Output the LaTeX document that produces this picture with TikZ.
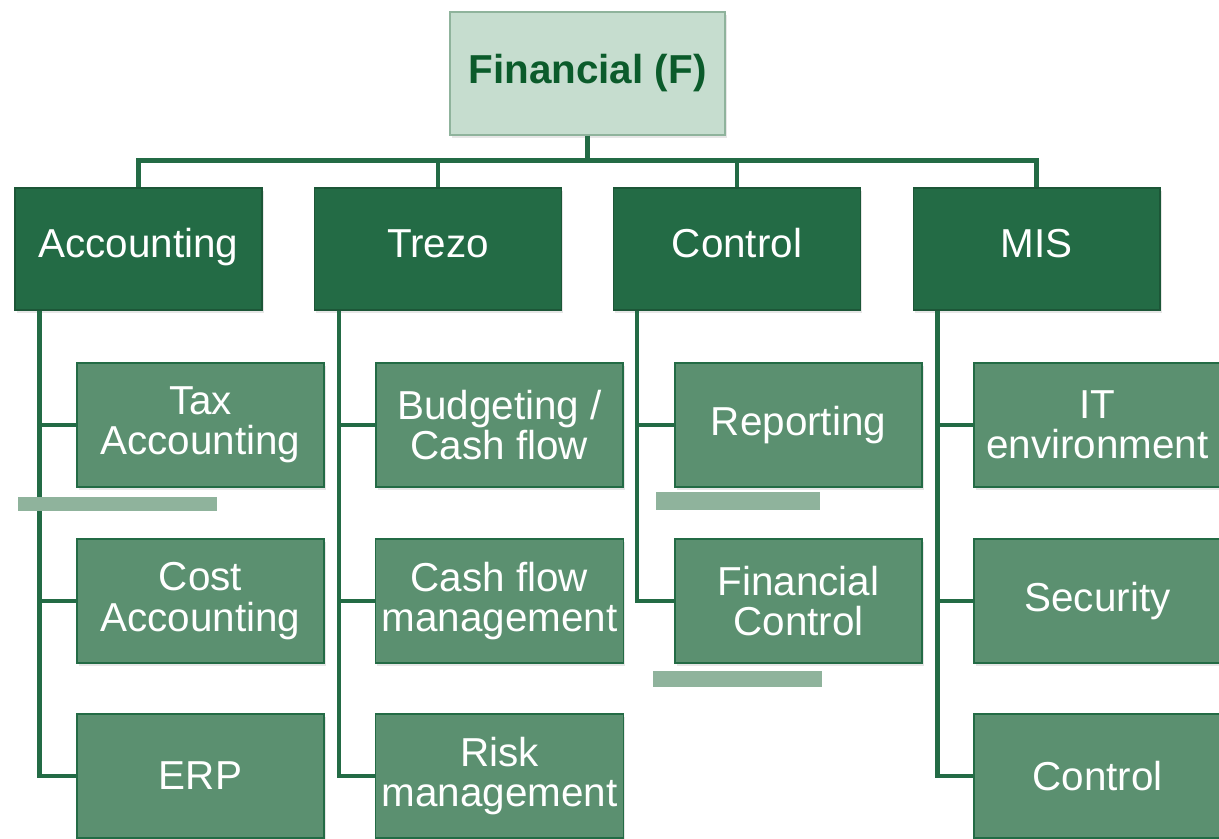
\documentclass[tikz,border=0pt]{standalone}
\usepackage{fontspec}
\setmainfont{Liberation Sans}
\usetikzlibrary{shadows}
\definecolor{darkgreen}{HTML}{236B45}
\definecolor{midgreen}{HTML}{5B9070}
\definecolor{palegreen}{HTML}{C6DDCF}
\definecolor{titlegreen}{HTML}{0B5B2B}
\definecolor{bargreen}{HTML}{8FB39C}
\tikzset{
	head/.style = {draw = bargreen, line width = 1pt, fill = palegreen, minimum width = 5.5cm, minimum height = 2.46cm, font = \fontsize{23}{23}\selectfont\bfseries, text = titlegreen, drop shadow = {opacity = 0.2, shadow xshift = 1pt, shadow yshift = -1.5pt}},
	dept/.style = {draw = darkgreen!80!black, line width = 0.6pt, fill = darkgreen, minimum width = 4.94cm, minimum height = 2.44cm, font = \fontsize{23}{23}\selectfont, text = white, text height = 1em, text depth = 0.06em, drop shadow = {opacity = 0.2, shadow xshift = 1pt, shadow yshift = -1.5pt}},
	task/.style = {draw = darkgreen, line width = 0.8pt, fill = midgreen, minimum width = 4.94cm, minimum height = 2.48cm, font = \fontsize{23}{23}\selectfont, text = white, align = center, drop shadow = {opacity = 0.2, shadow xshift = 1pt, shadow yshift = -1.5pt}},
	conn/.style = {draw = darkgreen, line width = 2.8pt, line join = miter}
}
\begin{document}
\begin{tikzpicture}[x = 0.02cm, y = -0.02cm]
				\useasboundingbox (0, 0) rectangle (1219, 838);
				\clip (0, 0) rectangle (1219, 838);
				% top of the tree
				\node[head] (fin) at (587.5, 73.5) {Financial (F)};
				% departments
				\node[dept] (acc) at (138.5, 249) {Accounting};
				\node[dept] (trz) at (438, 249) {Trezo};
				\node[dept] (ctl) at (737, 249) {Control};
				\node[dept] (mis) at (1036.5, 249) {MIS};
				\draw[conn] (fin.south) -- ++(0, 25) -| (acc.north);
				\draw[conn] (fin.south) -- ++(0, 25) -| (trz.north);
				\draw[conn] (fin.south) -- ++(0, 25) -| (ctl.north);
				\draw[conn] (fin.south) -- ++(0, 25) -| (mis.north);
				% tasks
				\node[task] (tax) at (200.5, 425) {Tax\\Accounting};
				\node[task] (cost) at (200.5, 601) {Cost\\Accounting};
				\node[task] (erp) at (200.5, 776) {ERP};
				\node[task] (budg) at (499.5, 425) {Budgeting /\\Cash flow};
				\node[task] (cash) at (499.5, 601) {Cash flow\\management};
				\node[task] (risk) at (499.5, 776) {Risk\\management};
				\node[task] (rep) at (798.5, 425) {Reporting};
				\node[task] (fctl) at (798.5, 601) {Financial\\Control};
				\node[task] (itenv) at (1097.5, 425) {IT\\environment};
				\node[task] (sec) at (1097.5, 601) {Security};
				\node[task] (misctl) at (1097.5, 776) {Control};
				\draw[conn] ([xshift = 0.5cm]acc.south west) |- (tax.west);
				\draw[conn] ([xshift = 0.5cm]acc.south west) |- (cost.west);
				\draw[conn] ([xshift = 0.5cm]acc.south west) |- (erp.west);
				\draw[conn] ([xshift = 0.5cm]trz.south west) |- (budg.west);
				\draw[conn] ([xshift = 0.5cm]trz.south west) |- (cash.west);
				\draw[conn] ([xshift = 0.5cm]trz.south west) |- (risk.west);
				\draw[conn] ([xshift = 0.48cm]ctl.south west) |- (rep.west);
				\draw[conn] ([xshift = 0.48cm]ctl.south west) |- (fctl.west);
				\draw[conn] ([xshift = 0.5cm]mis.south west) |- (itenv.west);
				\draw[conn] ([xshift = 0.5cm]mis.south west) |- (sec.west);
				\draw[conn] ([xshift = 0.5cm]mis.south west) |- (misctl.west);
				% loose bars
				\fill[bargreen] (18, 497) rectangle (217, 511);
				\fill[bargreen] (656, 492) rectangle (820, 510);
				\fill[bargreen] (653, 671) rectangle (822, 687);
			\end{tikzpicture}
\end{document}
